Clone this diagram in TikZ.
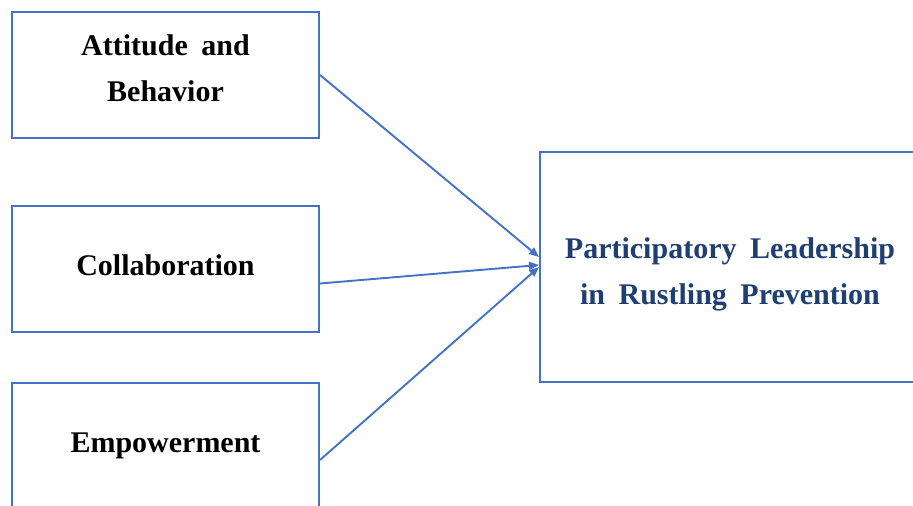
\documentclass[tikz,border=0pt]{standalone}
\usepackage{fontspec}
\setmainfont[WordSpace=1.8]{Liberation Serif}
\usetikzlibrary{arrows.meta, positioning}
\definecolor{boxblue}{HTML}{4472C4}
\definecolor{textnavy}{HTML}{1F3F73}

\begin{document}
\begin{tikzpicture}[x=1pt, y=-1pt,
  boxtext/.style={align=center, font=\fontsize{30}{46}\selectfont\bfseries},
  factor/.style={draw=boxblue, line width=2pt, minimum width=307pt, minimum height=126pt},
  outcome/.style={draw=boxblue, line width=2pt, minimum width=380pt, minimum height=230pt},
  link/.style={draw=boxblue, line width=1.9pt, -{Triangle[length=10pt,width=8pt]}}]

\clip (0,0) rectangle (913,506);

% three factors on the left
\node[factor, label={[boxtext, yshift=7pt]center:{Attitude and\\Behavior}}] (attitude) at (165.5, 75) {};
\node[factor, label={[boxtext, yshift=3pt]center:Collaboration}] (collab) at (165.5, 268.5) {};
\node[factor, label={[boxtext]center:Empowerment}] (empower) at (165.5, 446) {};

% outcome box on the right
\node[outcome, label={[boxtext, text=textnavy, yshift=-7pt]center:{Participatory Leadership\\in Rustling Prevention}}] (leader) at (730, 267) {};

% links into the outcome
\draw[link] (attitude.east) -- ([yshift=10pt]leader.west);
\draw[link] ([yshift=-15pt]collab.east) -- ([yshift=2pt]leader.west);
\draw[link] ([yshift=-14pt]empower.east) -- (leader.west);

\end{tikzpicture}
\end{document}
